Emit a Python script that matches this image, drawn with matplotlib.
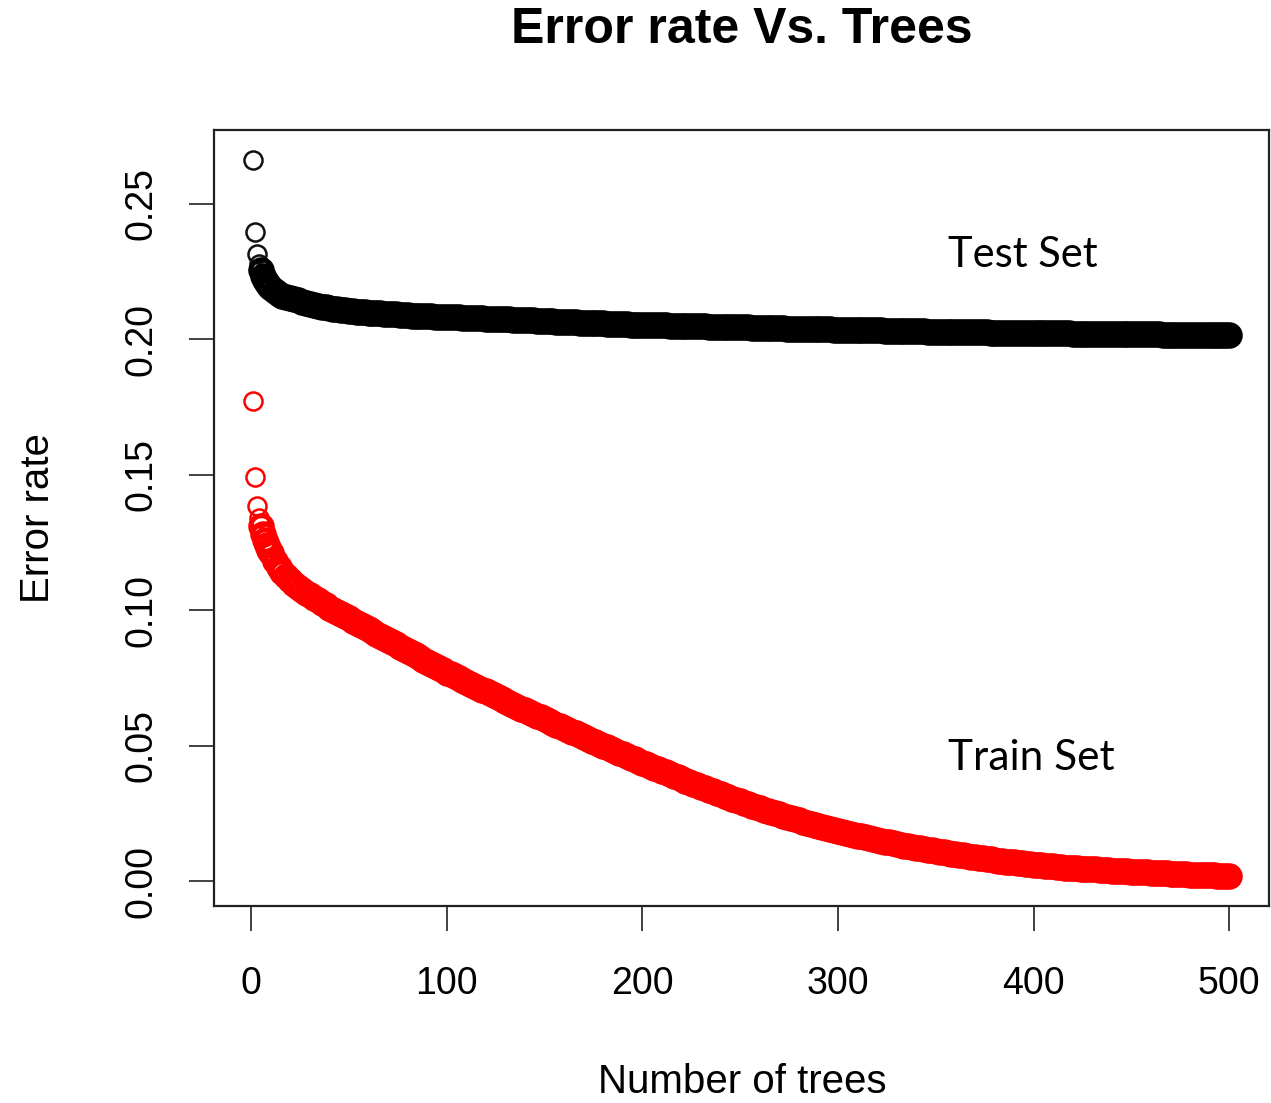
import matplotlib
matplotlib.use("Agg")
import matplotlib.pyplot as plt

plt.rcParams['font.family'] = ['Liberation Sans', 'DejaVu Sans']

# number of trees (every tree up to 10, then every second tree)
trees = list(range(1, 11)) + list(range(12, 501, 2))

# error rate on the test set
test_err = [
    0.2661, 0.2395, 0.2315, 0.2280, 0.2255, 0.2235, 0.2220, 0.2208, 0.2198, 0.2190,
    0.2178, 0.2169, 0.2162, 0.2157, 0.2153,
    0.2148, 0.2144, 0.2139, 0.2134, 0.2130,
    0.2127, 0.2124, 0.2121, 0.2118, 0.2115,
    0.2113, 0.2111, 0.2110, 0.2108, 0.2106,
    0.2105, 0.2103, 0.2102, 0.2100, 0.2099,
    0.2098, 0.2097, 0.2096, 0.2095, 0.2094,
    0.2093, 0.2092, 0.2091, 0.2090, 0.2089,
    0.2088, 0.2088, 0.2087, 0.2087, 0.2086,
    0.2085, 0.2084, 0.2084, 0.2083, 0.2082,
    0.2082, 0.2081, 0.2081, 0.2080, 0.2080, 0.2079, 0.2079, 0.2078, 0.2078, 0.2077,
    0.2077, 0.2076, 0.2076, 0.2075, 0.2074, 0.2074, 0.2073, 0.2073, 0.2072, 0.2071,
    0.2071, 0.2070, 0.2069, 0.2069, 0.2068, 0.2067, 0.2067, 0.2066, 0.2065, 0.2065,
    0.2064, 0.2063, 0.2063, 0.2062, 0.2061, 0.2061, 0.2060, 0.2060, 0.2059, 0.2059,
    0.2058, 0.2058, 0.2057, 0.2057, 0.2056, 0.2056, 0.2055, 0.2055, 0.2055, 0.2054,
    0.2054, 0.2053, 0.2053, 0.2052, 0.2052, 0.2052, 0.2051, 0.2051, 0.2050, 0.2050,
    0.2050, 0.2049, 0.2049, 0.2048, 0.2048, 0.2048, 0.2047, 0.2047, 0.2046, 0.2046,
    0.2046, 0.2045, 0.2045, 0.2045, 0.2044, 0.2044, 0.2044, 0.2043, 0.2043, 0.2043,
    0.2042, 0.2042, 0.2042, 0.2041, 0.2041, 0.2041, 0.2040, 0.2040, 0.2040, 0.2039,
    0.2039, 0.2039, 0.2038, 0.2038, 0.2038, 0.2037, 0.2037, 0.2037, 0.2036, 0.2036,
    0.2036, 0.2035, 0.2035, 0.2035, 0.2034, 0.2034, 0.2034, 0.2033, 0.2033, 0.2033,
    0.2033, 0.2032, 0.2032, 0.2032, 0.2031, 0.2031, 0.2031, 0.2031, 0.2030, 0.2030,
    0.2030, 0.2030, 0.2029, 0.2029, 0.2029, 0.2029, 0.2028, 0.2028, 0.2028, 0.2028,
    0.2027, 0.2027, 0.2027, 0.2027, 0.2026, 0.2026, 0.2026, 0.2026, 0.2025, 0.2025,
    0.2025, 0.2025, 0.2025, 0.2024, 0.2024, 0.2024, 0.2024, 0.2024, 0.2023, 0.2023,
    0.2023, 0.2023, 0.2023, 0.2022, 0.2022, 0.2022, 0.2022, 0.2022, 0.2022, 0.2021,
    0.2021, 0.2021, 0.2021, 0.2021, 0.2021, 0.2020, 0.2020, 0.2020, 0.2020, 0.2020,
    0.2020, 0.2020, 0.2019, 0.2019, 0.2019, 0.2019, 0.2019, 0.2019, 0.2019, 0.2019,
    0.2019, 0.2019, 0.2018, 0.2018, 0.2018, 0.2018, 0.2018, 0.2018, 0.2018, 0.2018,
    0.2018, 0.2018, 0.2018, 0.2018, 0.2018, 0.2018, 0.2018, 0.2018, 0.2018, 0.2018,
]

# error rate on the train set
train_err = [
    0.1771, 0.1491, 0.1385, 0.1340, 0.1310, 0.1283, 0.1260, 0.1240, 0.1223, 0.1210,
    0.1180, 0.1160, 0.1142, 0.1125, 0.1110,
    0.1098, 0.1086, 0.1074, 0.1064, 0.1055,
    0.1046, 0.1037, 0.1028, 0.1019, 0.1010,
    0.1002, 0.0994, 0.0986, 0.0978, 0.0970,
    0.0962, 0.0954, 0.0946, 0.0938, 0.0930,
    0.0922, 0.0914, 0.0906, 0.0898, 0.0890,
    0.0882, 0.0874, 0.0866, 0.0858, 0.0850,
    0.0842, 0.0834, 0.0826, 0.0818, 0.0810,
    0.0802, 0.0794, 0.0786, 0.0778, 0.0770,
    0.0763, 0.0756, 0.0749, 0.0742, 0.0735, 0.0728, 0.0721, 0.0714, 0.0707, 0.0700,
    0.0693, 0.0686, 0.0679, 0.0672, 0.0665, 0.0658, 0.0651, 0.0644, 0.0637, 0.0630,
    0.0624, 0.0617, 0.0611, 0.0604, 0.0598, 0.0591, 0.0585, 0.0578, 0.0572, 0.0565,
    0.0558, 0.0552, 0.0545, 0.0539, 0.0532, 0.0526, 0.0519, 0.0513, 0.0506, 0.0500,
    0.0494, 0.0487, 0.0481, 0.0474, 0.0468, 0.0462, 0.0456, 0.0449, 0.0443, 0.0437,
    0.0431, 0.0425, 0.0419, 0.0413, 0.0407, 0.0401, 0.0395, 0.0389, 0.0383, 0.0377,
    0.0371, 0.0365, 0.0359, 0.0353, 0.0347, 0.0342, 0.0336, 0.0331, 0.0325, 0.0320,
    0.0315, 0.0309, 0.0304, 0.0299, 0.0294, 0.0289, 0.0284, 0.0279, 0.0274, 0.0269,
    0.0264, 0.0259, 0.0255, 0.0250, 0.0246, 0.0241, 0.0237, 0.0233, 0.0228, 0.0224,
    0.0220, 0.0216, 0.0212, 0.0208, 0.0204, 0.0200, 0.0196, 0.0193, 0.0189, 0.0185,
    0.0182, 0.0178, 0.0175, 0.0171, 0.0168, 0.0165, 0.0161, 0.0158, 0.0155, 0.0152,
    0.0149, 0.0146, 0.0143, 0.0140, 0.0137, 0.0134, 0.0131, 0.0129, 0.0126, 0.0123,
    0.0121, 0.0118, 0.0116, 0.0113, 0.0111, 0.0108, 0.0106, 0.0104, 0.0101, 0.0099,
    0.0097, 0.0095, 0.0093, 0.0090, 0.0088, 0.0086, 0.0084, 0.0082, 0.0080, 0.0078,
    0.0076, 0.0074, 0.0072, 0.0071, 0.0069, 0.0067, 0.0066, 0.0064, 0.0062, 0.0061,
    0.0059, 0.0058, 0.0056, 0.0055, 0.0054, 0.0053, 0.0052, 0.0050, 0.0049, 0.0048,
    0.0047, 0.0046, 0.0045, 0.0044, 0.0043, 0.0043, 0.0042, 0.0041, 0.0040, 0.0039,
    0.0038, 0.0037, 0.0037, 0.0036, 0.0035, 0.0034, 0.0034, 0.0033, 0.0032, 0.0031,
    0.0031, 0.0030, 0.0029, 0.0029, 0.0028, 0.0027, 0.0027, 0.0026, 0.0025, 0.0024,
    0.0024, 0.0023, 0.0023, 0.0022, 0.0021, 0.0021, 0.0020, 0.0019, 0.0019, 0.0018,
]

xticks = [0, 100, 200, 300, 400, 500]
yticks = [0.00, 0.05, 0.10, 0.15, 0.20, 0.25]
ytick_labels = ['0.00', '0.05', '0.10', '0.15', '0.20', '0.25']

fig = plt.figure(figsize=(12.71, 11.03), dpi=100)
ax = fig.add_axes([0.1684, 0.1786, 0.8301, 0.7035])

# the first few points stand alone as thin rings, the rest pile up into a band
ax.plot(trees[:4], test_err[:4], 'o', mfc='none', mec='#111111', ms=13, mew=1.8)
ax.plot(trees[4:], test_err[4:], 'o', mfc='none', mec='black', ms=15.5, mew=3.6)
ax.plot(trees[:4], train_err[:4], 'o', mfc='none', mec='#ff0000', ms=13, mew=1.8)
ax.plot(trees[4:], train_err[4:], 'o', mfc='none', mec='#ff0000', ms=15.5, mew=3.6)

ax.set_xlim(-19, 520.4)
ax.set_ylim(-0.0092, 0.2773)
ax.set_xticks(xticks)
ax.set_xticklabels([str(t) for t in xticks])
ax.set_yticks(yticks)
ax.set_yticklabels(ytick_labels, rotation=90, va='center')

for sp in ax.spines.values():
    sp.set_linewidth(1.6)
    sp.set_color('#222222')
ax.tick_params(direction='out', length=18, width=1.3, color='#333333', labelsize=27)
ax.tick_params(axis='x', pad=25)
ax.tick_params(axis='y', pad=21)

fig.text(0.5838, 1 - 30 / 1103, 'Error rate Vs. Trees', ha='center', va='center',
         fontsize=36, fontweight='bold')
fig.text(0.5838, 1 - 1082 / 1103, 'Number of trees', ha='center', va='center', fontsize=29)
fig.text(38 / 1271, 1 - 518 / 1103, 'Error rate', ha='center', va='center',
         rotation=90, fontsize=29)

fig.text(948 / 1271, 1 - 255 / 1103, 'Test Set', ha='left', va='center',
         fontsize=30, family=['Lato', 'DejaVu Sans'])
fig.text(948 / 1271, 1 - 758 / 1103, 'Train Set', ha='left', va='center',
         fontsize=30.5, family=['Lato', 'DejaVu Sans'])

fig.savefig('out.png', dpi=100)
